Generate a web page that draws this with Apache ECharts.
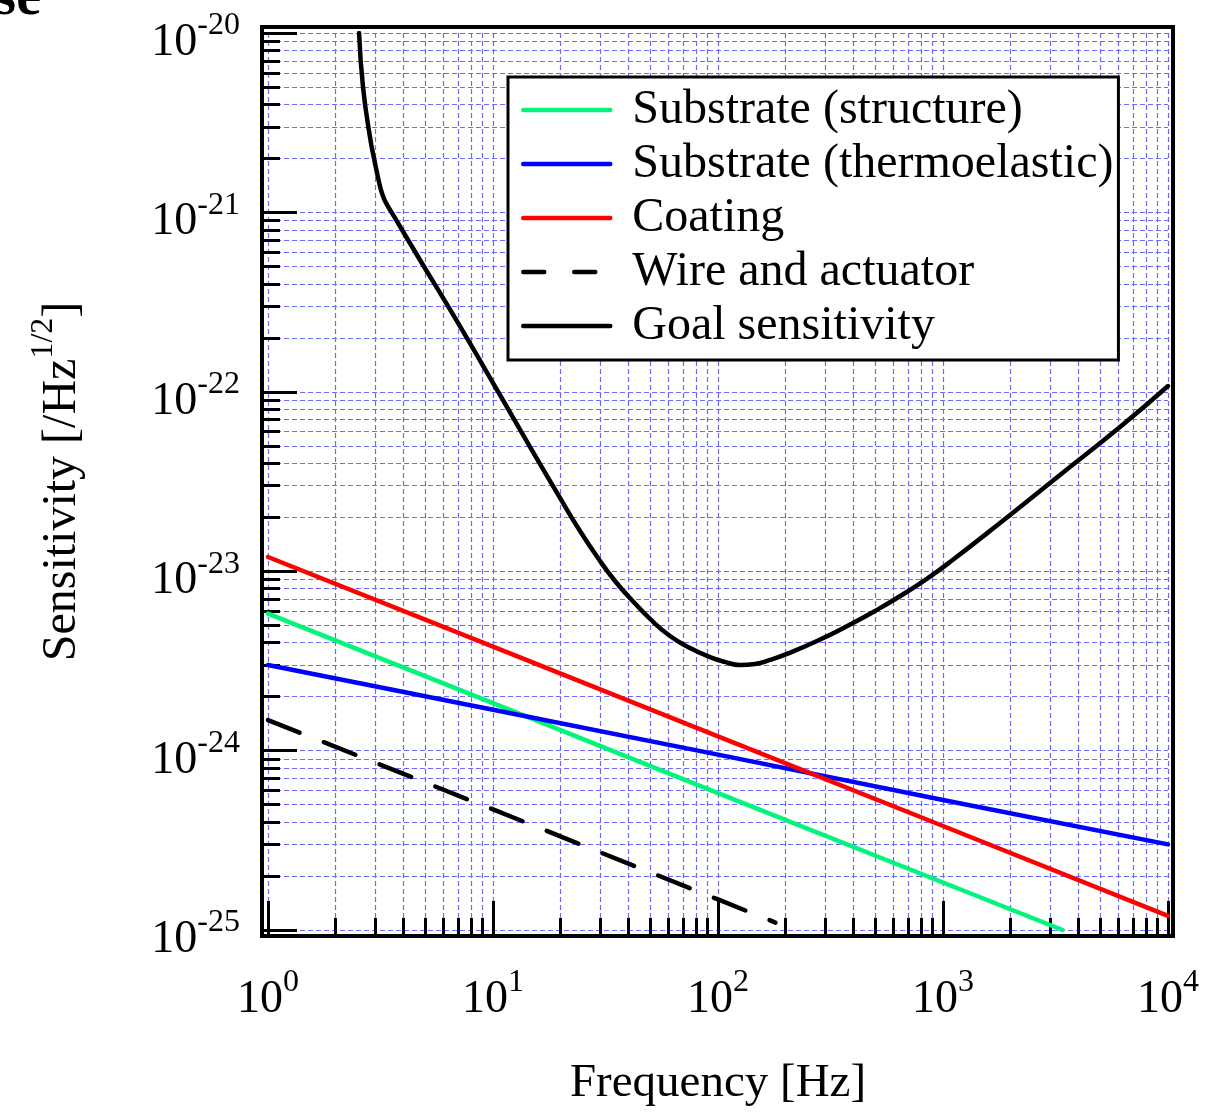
<!DOCTYPE html>
<html>
<head>
<meta charset="utf-8">
<script src="https://cdn.jsdelivr.net/npm/echarts@6/dist/echarts.min.js"></script>
<style>
  html, body { margin: 0; padding: 0; background: #fff; }
  #chart { width: 1208px; height: 1114px; }
</style>
</head>
<body>
<div id="chart"></div>
<script>
var FONT = '"Liberation Serif", "Times New Roman", serif';

// axis ticks (decades + 2..9 minor ticks)
var xMajor = [1, 10, 100, 1000, 10000];
var yMajor = [1e-25, 1e-24, 1e-23, 1e-22, 1e-21, 1e-20];
var minorSteps = [2, 3, 4, 5, 6, 7, 8, 9];

// Substrate (structure)
var structFreq = [1, 10, 100, 1000, 3400];
var structSens = [5.8e-24, 1.84e-24, 5.8e-25, 1.84e-25, 1.0e-25];
// Substrate (thermoelastic)
var thermoFreq = [1, 10, 100, 1000, 10000];
var thermoSens = [3.0e-24, 1.69e-24, 9.5e-25, 5.3e-25, 3.0e-25];
// Coating
var coatFreq = [1, 10, 100, 1000, 10000];
var coatSens = [1.2e-23, 3.8e-24, 1.2e-24, 3.8e-25, 1.2e-25];
// Wire and actuator
var wireFreq = [1, 10, 100, 180];
var wireSens = [1.48e-24, 4.7e-25, 1.48e-25, 1.1e-25];
// Goal sensitivity
var goalFreq = [2.54, 2.644, 2.84, 2.99, 3.15, 3.244, 3.345, 3.667, 4.738, 6.78, 10.74, 14.6, 19.85, 24.36, 29.9,
                34.85, 40.6, 49.9, 61.2, 75.1, 92.1, 107.4, 125.2, 146.1, 170.2, 202.6, 275.4, 398.1, 498.7,
                624.8, 831.8, 1074, 1792, 3311, 6118, 10000];
var goalSens = [1.0e-20, 5.0e-21, 2.63e-21, 1.88e-21, 1.39e-21, 1.234e-21, 1.13e-21, 9.31e-22, 5.43e-22, 2.58e-22, 9.6e-23, 4.93e-23, 2.56e-23, 1.675e-23, 1.14e-23,
                8.82e-24, 7.09e-24, 5.42e-24, 4.35e-24, 3.73e-24, 3.32e-24, 3.12e-24, 3.0e-24, 3.04e-24, 3.2e-24, 3.46e-24, 4.08e-24, 5.14e-24, 6.0e-24,
                7.09e-24, 8.93e-24, 1.125e-23, 1.857e-23, 3.44e-23, 6.36e-23, 1.077e-22];

function minorOf(major) {
  var out = [];
  for (var i = 0; i < major.length - 1; i++) {
    for (var j = 0; j < minorSteps.length; j++) out.push(major[i] * minorSteps[j]);
  }
  return out;
}
var xMinor = minorOf(xMajor);
var yMinor = minorOf(yMajor);

function pairs(xs, ys) {
  return xs.map(function (x, i) { return [x, ys[i]]; });
}
function powLabel(v) {
  return '{b|10}{s|' + Math.round(Math.log10(v)) + '}';
}

var gridLine = { show: true, lineStyle: { color: '#6a6aff', width: 1.2, type: [5, 3] } };
var tickStyle = { color: '#000', width: 3 };

var xRich = {
  b: { fontFamily: FONT, fontSize: 46, lineHeight: 46, padding: [20, 0, 0, 0], color: '#000' },
  s: { fontFamily: FONT, fontSize: 32, lineHeight: 28, verticalAlign: 'top', color: '#000' }
};
var yRich = {
  b: { fontFamily: FONT, fontSize: 46, lineHeight: 46, padding: [20, 0, 0, 0], color: '#000' },
  s: { fontFamily: FONT, fontSize: 32, lineHeight: 33, verticalAlign: 'top', color: '#000' }
};

var myChart = echarts.init(document.getElementById('chart'));

var option = {
  animation: false,
  backgroundColor: '#fff',
  grid: { left: 268, top: 33, width: 900, height: 897 },
  legend: {
    orient: 'vertical',
    left: 508,
    top: 77,
    padding: [9, 5, 10, 13],
    itemGap: 6,
    itemWidth: 87,
    itemHeight: 20,
    borderColor: '#000',
    borderWidth: 3,
    borderRadius: 0,
    backgroundColor: '#fff',
    itemStyle: { opacity: 0 },
    lineStyle: { width: 4.5, cap: 'round' },
    formatter: function (name) { return '{g|}{t|' + name + '}'; },
    textStyle: {
      color: '#000',
      rich: {
        g: { width: 17 },
        t: { fontFamily: FONT, fontSize: 48, color: '#000' }
      }
    },
    data: [
      'Substrate (structure)',
      'Substrate (thermoelastic)',
      'Coating',
      { name: 'Wire and actuator', lineStyle: { type: [21, 30] } },
      'Goal sensitivity'
    ]
  },
  xAxis: [
    {
      type: 'log', min: 1, max: 10000, position: 'bottom', offset: 6,
      axisLine: { show: false },
      axisTick: { show: true, inside: true, length: 35, lineStyle: tickStyle, customValues: xMajor },
      axisLabel: { customValues: xMajor, margin: 31, formatter: powLabel, rich: xRich },
      splitLine: gridLine,
      name: 'Frequency [Hz]', nameLocation: 'middle', nameGap: 124,
      nameTextStyle: { fontFamily: FONT, fontSize: 47, color: '#000', lineHeight: 47 }
    },
    {
      type: 'log', min: 1, max: 10000, position: 'bottom', offset: 6,
      axisLine: { show: false },
      axisTick: { show: true, inside: true, length: 18, lineStyle: tickStyle, customValues: xMinor },
      axisLabel: { show: false },
      splitLine: gridLine
    }
  ],
  yAxis: [
    {
      type: 'log', min: 1e-25, max: 1e-20, position: 'left', offset: 6,
      axisLine: { show: false },
      axisTick: { show: true, inside: true, length: 35, lineStyle: tickStyle, customValues: yMajor },
      axisLabel: { customValues: yMajor, margin: 22, formatter: powLabel, rich: yRich },
      splitLine: gridLine,
      name: '{t|Sensitivity [/Hz}{s|1/2}{t|]}', nameLocation: 'middle', nameGap: 186,
      nameTextStyle: {
        rich: {
          t: { fontFamily: FONT, fontSize: 48, lineHeight: 48, padding: [20, 0, 0, 0], color: '#000' },
          s: { fontFamily: FONT, fontSize: 32, lineHeight: 29, verticalAlign: 'top', color: '#000' }
        }
      }
    },
    {
      type: 'log', min: 1e-25, max: 1e-20, position: 'left', offset: 6,
      axisLine: { show: false },
      axisTick: { show: true, inside: true, length: 18, lineStyle: tickStyle, customValues: yMinor },
      axisLabel: { show: false },
      splitLine: gridLine
    }
  ],
  graphic: [
    {
      type: 'rect', silent: true, z: 100,
      shape: { x: 262, y: 27, width: 911, height: 909 },
      style: { fill: 'none', stroke: '#000', lineWidth: 4 }
    },
    {
      type: 'text', silent: true, x: 41, y: 28,
      style: { text: 'se', font: 'bold 56px "Liberation Serif"', align: 'right', verticalAlign: 'bottom', fill: '#000' }
    }
  ],
  series: [
    {
      name: 'Substrate (structure)', type: 'line', symbol: 'none',
      lineStyle: { color: '#00f57a', width: 4.5, cap: 'round' }, itemStyle: { color: '#00f57a' },
      data: pairs(structFreq, structSens)
    },
    {
      name: 'Substrate (thermoelastic)', type: 'line', symbol: 'none',
      lineStyle: { color: '#0000ff', width: 4.5, cap: 'round' }, itemStyle: { color: '#0000ff' },
      data: pairs(thermoFreq, thermoSens)
    },
    {
      name: 'Coating', type: 'line', symbol: 'none',
      lineStyle: { color: '#ff0000', width: 4.5, cap: 'round' }, itemStyle: { color: '#ff0000' },
      data: pairs(coatFreq, coatSens)
    },
    {
      name: 'Wire and actuator', type: 'line', symbol: 'none',
      lineStyle: { color: '#000', width: 4.5, type: [34, 26], cap: 'round' }, itemStyle: { color: '#000' },
      data: pairs(wireFreq, wireSens)
    },
    {
      name: 'Goal sensitivity', type: 'line', symbol: 'none', smooth: 0.5,
      lineStyle: { color: '#000', width: 4.5, cap: 'round', join: 'round' }, itemStyle: { color: '#000' },
      data: pairs(goalFreq, goalSens)
    }
  ]
};

myChart.setOption(option);
</script>
</body>
</html>
